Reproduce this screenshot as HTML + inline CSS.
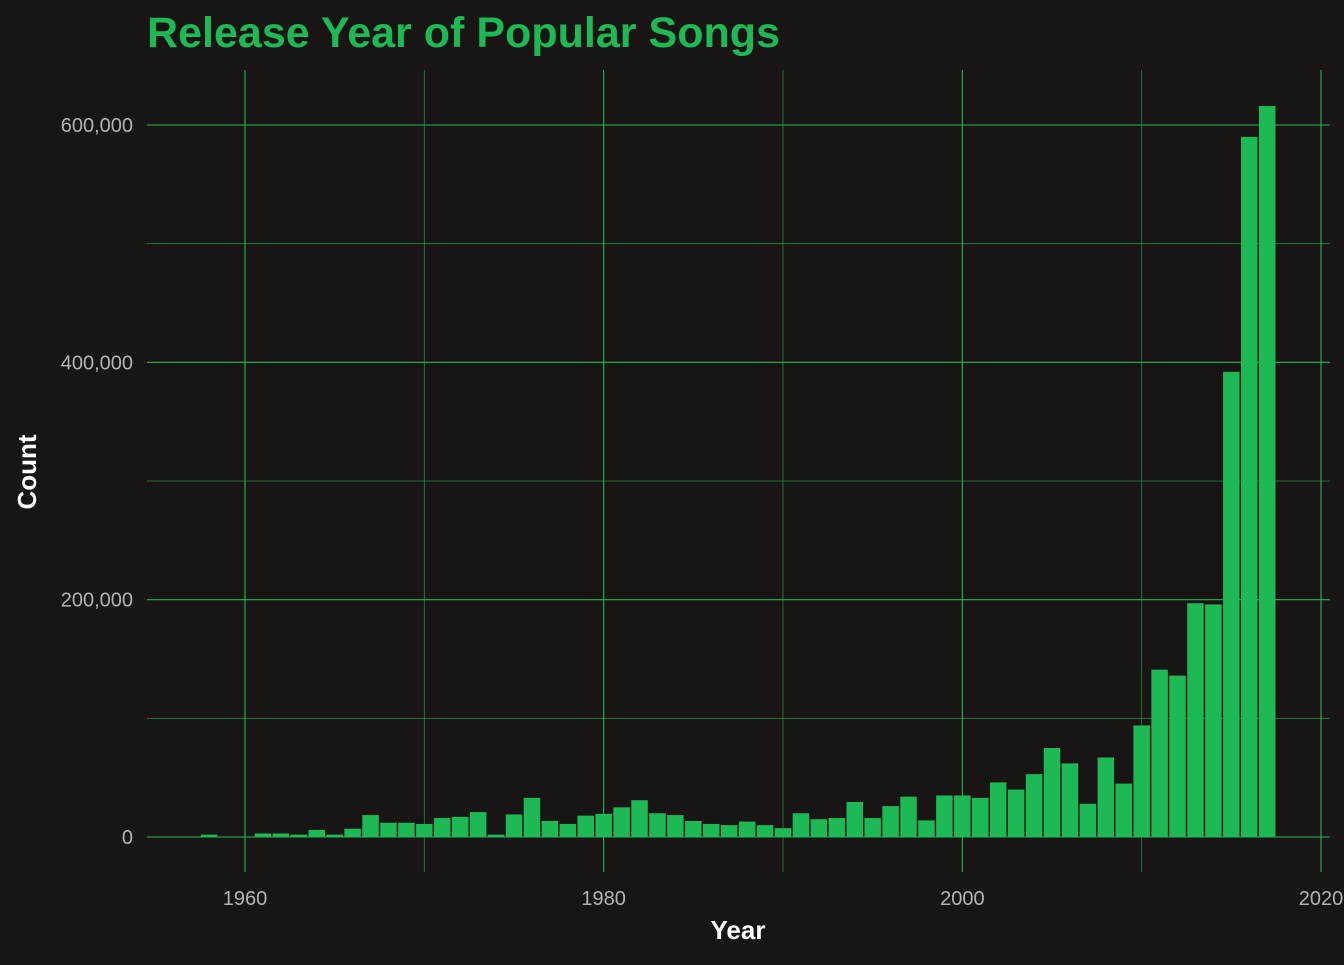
<!DOCTYPE html>
<html><head><meta charset="utf-8"><style>
body{margin:0;background:#191515;}
svg text{font-family:"Liberation Sans",Arial,sans-serif;}
</style></head><body>
<svg width="1344" height="960" xmlns="http://www.w3.org/2000/svg">
<rect width="1344" height="960" fill="#191515"/>
<text x="147" y="47" font-size="43" font-weight="bold" fill="#1DB954" textLength="633">Release Year of Popular Songs</text>
<g id="grid"></g>
<g id="bars"></g>
<g id="axes"></g>
<text x="738" y="939" font-size="26" font-weight="bold" fill="#ffffff" text-anchor="middle">Year</text>
<text transform="translate(36,472) rotate(-90)" font-size="26" font-weight="bold" fill="#ffffff" text-anchor="middle">Count</text>
</svg>
<script>
const years=[1958,1959,1960,1961,1962,1963,1964,1965,1966,1967,1968,1969,1970,1971,1972,1973,1974,1975,1976,1977,1978,1979,1980,1981,1982,1983,1984,1985,1986,1987,1988,1989,1990,1991,1992,1993,1994,1995,1996,1997,1998,1999,2000,2001,2002,2003,2004,2005,2006,2007,2008,2009,2010,2011,2012,2013,2014,2015,2016,2017];
const counts=[2000,0,0,3000,3000,2000,6000,2000,7000,18500,12000,12000,11000,16000,17000,21000,2000,19000,33000,13500,11000,18000,19500,25000,31000,20000,18500,13500,11000,10000,13000,10000,7500,20000,15000,16000,29500,16000,26000,34000,14000,35000,35000,33000,46000,40000,53000,75000,62000,28000,67000,45000,94000,141000,136000,197000,196000,392000,590000,616000];
const xTicks=[1960,1980,2000,2020];
const xMinor=[1970,1990,2010];
const yTicks=[0,200000,400000,600000];
const yMinor=[100000,300000,500000];
const yLabels=["0","200,000","400,000","600,000"];
const NS="http://www.w3.org/2000/svg";
const X=v=>245+(v-1960)*(1321-245)/60;
const Y=v=>837-v*(837-125)/600000;
const L=147,R=1330,T=70,B=872;
function mk(tag,attrs,parent){const e=document.createElementNS(NS,tag);for(const k in attrs)e.setAttribute(k,attrs[k]);document.getElementById(parent).appendChild(e);return e;}
yMinor.forEach(v=>{const e=mk('line',{x1:L,x2:R,y1:Y(v),y2:Y(v),stroke:'#1DB954','stroke-width':0.8,opacity:0.7},'grid');

});
xMinor.forEach(v=>{const e=mk('line',{x1:X(v),x2:X(v),y1:T,y2:B,stroke:'#1DB954','stroke-width':0.8,opacity:0.7},'grid');

});
yTicks.forEach((v,i)=>{const e=mk('line',{x1:L,x2:R,y1:Y(v),y2:Y(v),stroke:'#1DB954','stroke-width':1.1},'grid');


const t=mk('text',{x:133,y:Y(v)+7,'font-size':20,fill:'#b3b3b3','text-anchor':'end'},'axes');t.textContent=yLabels[i];

});
xTicks.forEach(v=>{const e=mk('line',{x1:X(v),x2:X(v),y1:T,y2:B,stroke:'#1DB954','stroke-width':1.1},'grid');


const t=mk('text',{x:X(v),y:905,'font-size':20,fill:'#b3b3b3','text-anchor':'middle'},'axes');t.textContent=String(v);

});
const w=(X(1961)-X(1960))*0.92;
years.forEach((yr,i)=>{const v=counts[i];if(v<=0)return;const y=Y(v);
const r=mk('rect',{x:X(yr)-w/2,y:y,width:w,height:Y(0)-y,fill:'#1DB954'},'bars');

});
</script>
</body></html>
